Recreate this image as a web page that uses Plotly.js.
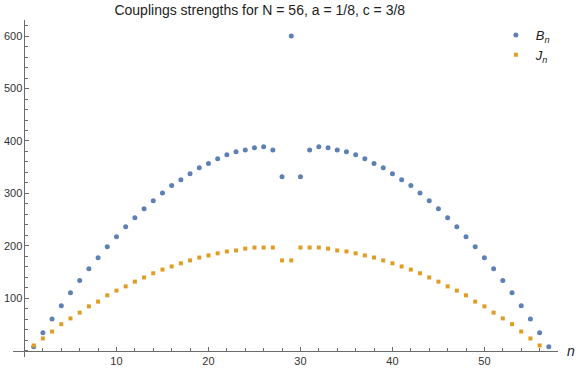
<!DOCTYPE html>
<html>
<head>
<meta charset="utf-8">
<script src="https://cdn.plot.ly/plotly-3.0.1.min.js"></script>
<style>
  html, body { margin: 0; padding: 0; background: #fff; }
  #plot { width: 576px; height: 370px; }
</style>
</head>
<body>
<div id="plot"></div>
<script>
// site index n and coupling strengths
const nB = [1, 2, 3, 4, 5, 6, 7, 8, 9, 10, 11, 12, 13, 14, 15, 16, 17, 18, 19, 20,
  21, 22, 23, 24, 25, 26, 27, 28, 29, 30, 31, 32, 33, 34, 35, 36, 37, 38, 39, 40,
  41, 42, 43, 44, 45, 46, 47, 48, 49, 50, 51, 52, 53, 54, 55, 56, 57];
const valB = [8, 34.5, 61, 86, 111, 134, 156.5, 177.5, 198.5, 217.5, 236.5, 254, 271, 286, 301, 315, 326, 337.5, 349, 357,
  366, 374, 379.5, 383, 387, 389, 383, 332, 600, 332, 383, 389, 387, 383, 379.5, 374, 366, 357, 349, 337.5,
  326, 315, 301, 286, 271, 254, 236.5, 217.5, 198.5, 177.5, 156.5, 134, 111, 86, 61, 34.5, 8];

const nJ = [1, 2, 3, 4, 5, 6, 7, 8, 9, 10, 11, 12, 13, 14, 15, 16, 17, 18, 19, 20,
  21, 22, 23, 24, 25, 26, 27, 28, 29, 30, 31, 32, 33, 34, 35, 36, 37, 38, 39, 40,
  41, 42, 43, 44, 45, 46, 47, 48, 49, 50, 51, 52, 53, 54, 55, 56];
const valJ = [10.4, 23.8, 37, 51, 62, 73, 85, 94, 106, 115, 123, 132, 140, 148, 155, 161, 167, 172.5, 178, 182,
  186, 189.5, 191.5, 195, 197, 197, 197, 172.5, 172.5, 197, 197, 197, 195, 191.5, 189.5, 186, 182, 178, 172.5, 167,
  161, 155, 148, 140, 132, 123, 115, 106, 94, 85, 73, 62, 51, 37, 23.8, 10.4];

const xTicks = [10, 20, 30, 40, 50];
const yTicks = [100, 200, 300, 400, 500, 600];

const xRange = [-1.25, 58.0];
const yRange = [-11.5, 630.5];

const axisColor = '#6b6b6b';
const labelFont = { family: 'Liberation Sans, Arial, sans-serif', size: 11, color: '#333' };

const data = [
  {
    type: 'scatter',
    mode: 'markers',
    x: nB,
    y: valB,
    name: '<i>B</i><sub><i>n</i></sub>',
    marker: { color: '#5E81B5', size: 5, symbol: 'circle' }
  },
  {
    type: 'scatter',
    mode: 'markers',
    x: nJ,
    y: valJ,
    name: '<i>J</i><sub><i>n</i></sub>',
    marker: { color: '#E19C24', size: 4, symbol: 'square' }
  }
];

const layout = {
  width: 576,
  height: 370,
  margin: { l: 13, r: 18, t: 20, b: 13 },
  paper_bgcolor: '#fff',
  plot_bgcolor: '#fff',
  title: {
    text: 'Couplings strengths for N = 56, a = 1/8, c = 3/8',
    font: { family: 'Liberation Sans, Arial, sans-serif', size: 14, color: '#222' },
    xref: 'container', x: 0.451, xanchor: 'center',
    yref: 'container', y: 0.972, yanchor: 'middle'
  },
  xaxis: {
    range: xRange,
    anchor: 'free',
    position: (0 - yRange[0]) / (yRange[1] - yRange[0]),
    showgrid: false,
    zeroline: false,
    showline: true,
    linecolor: axisColor,
    linewidth: 1,
    tickmode: 'array',
    tickvals: xTicks,
    ticks: 'inside',
    ticklen: 4,
    tickcolor: axisColor,
    tickfont: labelFont,
    minor: { tickmode: 'linear', tick0: 0, dtick: 2, ticks: 'inside', ticklen: 2.5, tickcolor: axisColor }
  },
  yaxis: {
    range: yRange,
    anchor: 'free',
    position: (0 - xRange[0]) / (xRange[1] - xRange[0]),
    showgrid: false,
    zeroline: false,
    showline: true,
    linecolor: axisColor,
    linewidth: 1,
    tickmode: 'array',
    tickvals: yTicks,
    ticks: 'inside',
    ticklen: 4,
    tickcolor: axisColor,
    tickfont: labelFont,
    minor: { tickmode: 'linear', tick0: 0, dtick: 20, ticks: 'inside', ticklen: 2.5, tickcolor: axisColor }
  },
  showlegend: true,
  legend: {
    x: 0.886, xanchor: 'left',
    y: 1.0, yanchor: 'top',
    bgcolor: 'rgba(0,0,0,0)',
    font: { family: 'Liberation Sans, Arial, sans-serif', size: 13, color: '#222' },
    itemwidth: 30
  },
  annotations: [
    {
      text: '<i>n</i>',
      xref: 'paper', x: 1.012, xanchor: 'left',
      yref: 'y', y: 0, yanchor: 'middle',
      showarrow: false,
      font: { family: 'Liberation Sans, Arial, sans-serif', size: 14, color: '#222' }
    }
  ]
};

Plotly.newPlot('plot', data, layout, { displayModeBar: false, staticPlot: true });
</script>
</body>
</html>
